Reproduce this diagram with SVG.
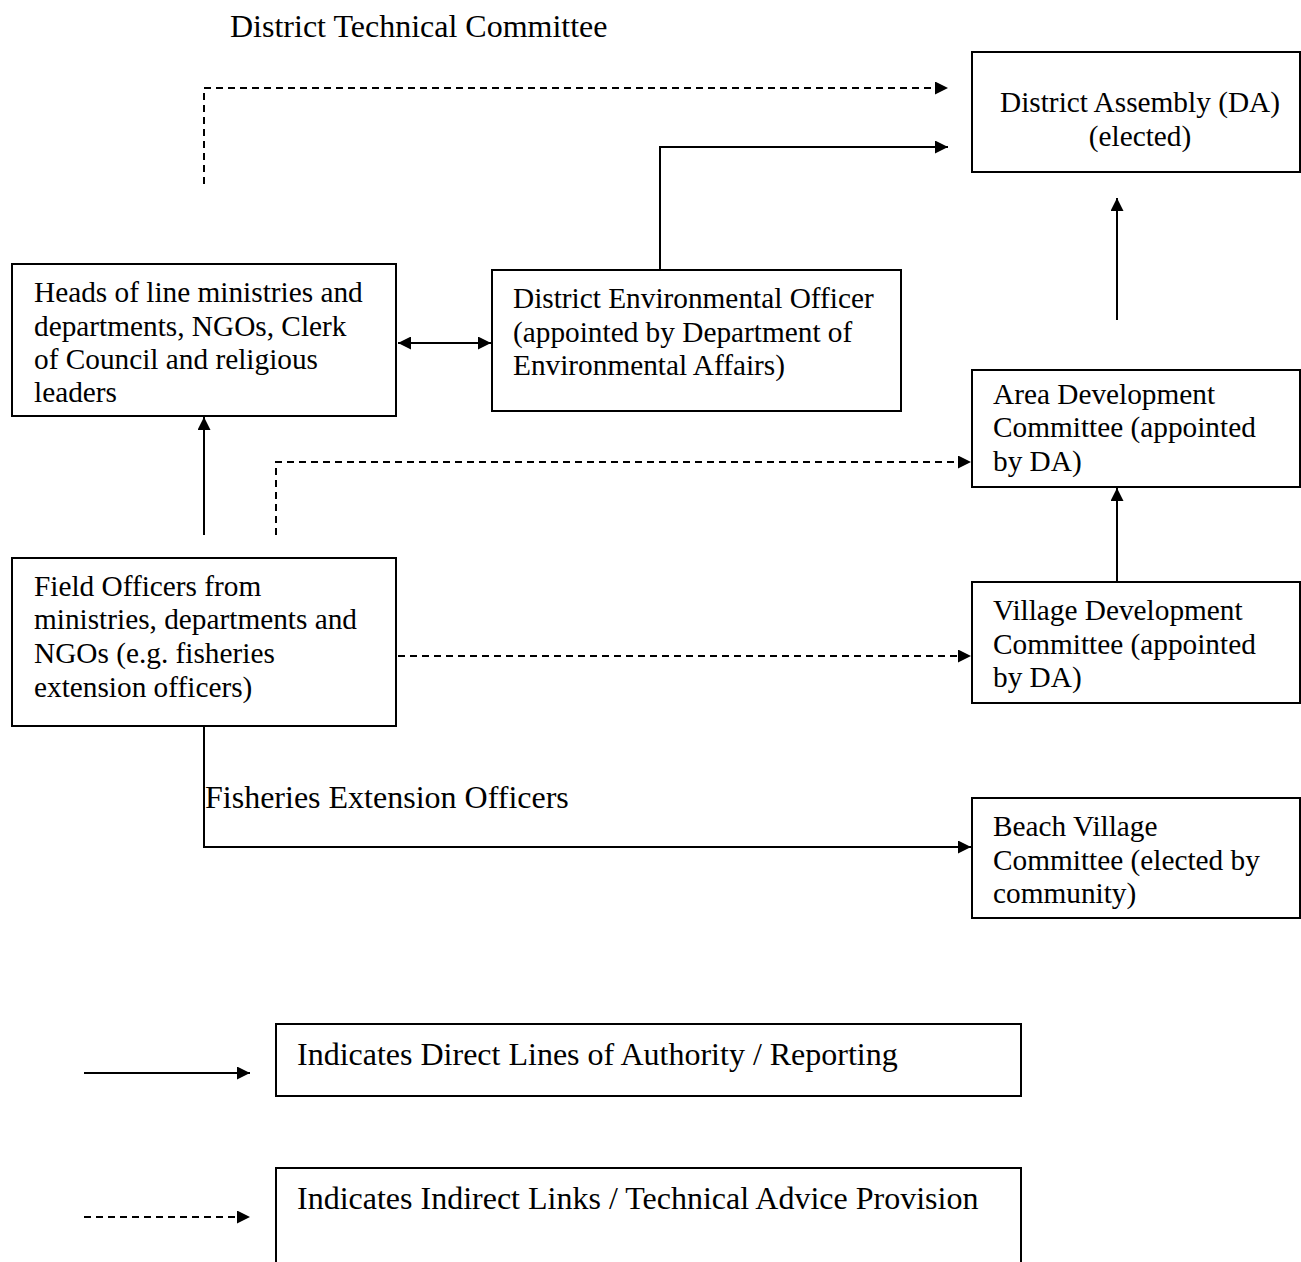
<svg xmlns="http://www.w3.org/2000/svg" width="1301" height="1262" viewBox="0 0 1301 1262">
<style>
text{font-family:"Liberation Serif","Times New Roman",serif;font-size:29.3px;fill:#000}
.box{fill:#fff;stroke:#000;stroke-width:2}
.ln{fill:none;stroke:#000;stroke-width:2}
.dash{stroke-dasharray:7 5}
.big{font-size:32px}
</style>
<defs>
<marker id="ah" markerWidth="13" markerHeight="13" refX="13" refY="6.5" orient="auto" markerUnits="userSpaceOnUse">
<path d="M0,0 L13,6.5 L0,13 Z" fill="#000"/>
</marker>
<marker id="ahs" markerWidth="13" markerHeight="13" refX="13" refY="6.5" orient="auto-start-reverse" markerUnits="userSpaceOnUse">
<path d="M0,0 L13,6.5 L0,13 Z" fill="#000"/>
</marker>
</defs>
<text class="big" x="230" y="37">District Technical Committee</text>
<g id="connectors">
<path class="ln dash" d="M204,184 V88 H948" marker-end="url(#ah)"/>
<path class="ln" d="M660,270 V147 H948" marker-end="url(#ah)"/>
<path class="ln" d="M1117,320 V198" marker-end="url(#ah)"/>
<path class="ln" d="M398,343 H491" marker-start="url(#ahs)" marker-end="url(#ahs)"/>
<path class="ln dash" d="M276,535 V462 H971" marker-end="url(#ah)"/>
<path class="ln" d="M204,535 V417" marker-end="url(#ah)"/>
<path class="ln" d="M1117,582 V488" marker-end="url(#ah)"/>
<path class="ln dash" d="M398,656 H971" marker-end="url(#ah)"/>
<path class="ln" d="M204,727 V847 H971" marker-end="url(#ah)"/>
<text class="big" x="205" y="808">Fisheries Extension Officers</text>
</g>
<g id="da">
<rect class="box" x="972" y="52" width="328" height="120"/>
<text x="1140" y="112" text-anchor="middle">District Assembly (DA)</text>
<text x="1140" y="146" text-anchor="middle">(elected)</text>
</g>
<g id="heads">
<rect class="box" x="12" y="264" width="384" height="152"/>
<text x="34" y="302">Heads of line ministries and</text>
<text x="34" y="336">departments, NGOs, Clerk</text>
<text x="34" y="369">of Council and religious</text>
<text x="34" y="402">leaders</text>
</g>
<g id="deo">
<rect class="box" x="492" y="270" width="409" height="141"/>
<text x="513" y="308">District Environmental Officer</text>
<text x="513" y="342">(appointed by Department of</text>
<text x="513" y="375">Environmental Affairs)</text>
</g>
<g id="adc">
<rect class="box" x="972" y="370" width="328" height="117"/>
<text x="993" y="404">Area Development</text>
<text x="993" y="437">Committee (appointed</text>
<text x="993" y="471">by DA)</text>
</g>
<g id="field">
<rect class="box" x="12" y="558" width="384" height="168"/>
<text x="34" y="596">Field Officers from</text>
<text x="34" y="629">ministries, departments and</text>
<text x="34" y="663">NGOs (e.g. fisheries</text>
<text x="34" y="697">extension officers)</text>
</g>
<g id="vdc">
<rect class="box" x="972" y="582" width="328" height="121"/>
<text x="993" y="620">Village Development</text>
<text x="993" y="654">Committee (appointed</text>
<text x="993" y="687">by DA)</text>
</g>
<g id="bvc">
<rect class="box" x="972" y="798" width="328" height="120"/>
<text x="993" y="836">Beach Village</text>
<text x="993" y="870">Committee (elected by</text>
<text x="993" y="903">community)</text>
</g>
<g id="legend-direct">
<path class="ln" d="M84,1073 H250" marker-end="url(#ah)"/>
<rect class="box" x="276" y="1024" width="745" height="72"/>
<text class="big" x="297" y="1065">Indicates Direct Lines of Authority / Reporting</text>
</g>
<g id="legend-indirect">
<path class="ln dash" d="M84,1217 H250" marker-end="url(#ah)"/>
<rect class="box" x="276" y="1168" width="745" height="100"/>
<text class="big" x="297" y="1209">Indicates Indirect Links / Technical Advice Provision</text>
</g>
</svg>
